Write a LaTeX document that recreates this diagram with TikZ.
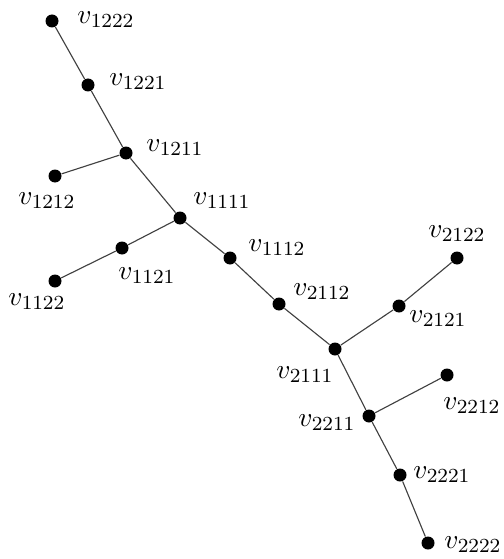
\documentclass[tikz,border=0pt]{standalone}
\begin{document}
\begin{tikzpicture}[x=0.4pt,y=-0.4pt,
	dot/.style={circle,fill=black,inner sep=0pt,minimum size=5.2pt},
	lbl/.style={font=\fontsize{11}{13}\selectfont},
	edge/.style={draw=black!75,line width=0.45pt}]
			\useasboundingbox (0,0) rectangle (503,559);
			\node[dot] (v1222) at (52,21) {};
			\node[dot] (v1221) at (88,85) {};
			\node[dot] (v1211) at (126,153) {};
			\node[dot] (v1212) at (55,176) {};
			\node[dot] (v1111) at (180,218) {};
			\node[dot] (v1121) at (122,248) {};
			\node[dot] (v1122) at (55,281) {};
			\node[dot] (v1112) at (230,258) {};
			\node[dot] (v2112) at (279,304) {};
			\node[dot] (v2111) at (335,349) {};
			\node[dot] (v2121) at (399,306) {};
			\node[dot] (v2122) at (457,258) {};
			\node[dot] (v2211) at (369,416) {};
			\node[dot] (v2212) at (447,375) {};
			\node[dot] (v2221) at (400,475) {};
			\node[dot] (v2222) at (428,543) {};

			\draw[edge] (v1222) -- (v1221) -- (v1211) -- (v1111) -- (v1112) -- (v2112) -- (v2111) -- (v2211) -- (v2221) -- (v2222);
			\draw[edge] (v1211) -- (v1212);
			\draw[edge] (v1111) -- (v1121) -- (v1122);
			\draw[edge] (v2111) -- (v2121) -- (v2122);
			\draw[edge] (v2211) -- (v2212);

			\node[lbl] (l1222) at (106,20) {$v_{1222}$};
			\node[lbl] (l1221) at (138,82) {$v_{1221}$};
			\node[lbl] (l1211) at (175,148) {$v_{1211}$};
			\node[lbl] (l1212) at (47,201) {$v_{1212}$};
			\node[lbl] (l1111) at (222,201) {$v_{1111}$};
			\node[lbl] (l1121) at (147,276) {$v_{1121}$};
			\node[lbl] (l1122) at (37,302) {$v_{1122}$};
			\node[lbl] (l1112) at (277,248) {$v_{1112}$};
			\node[lbl] (l2112) at (322,292) {$v_{2112}$};
			\node[lbl] (l2111) at (305,375) {$v_{2111}$};
			\node[lbl] (l2121) at (438,319) {$v_{2121}$};
			\node[lbl] (l2122) at (457,234) {$v_{2122}$};
			\node[lbl] (l2211) at (327,423) {$v_{2211}$};
			\node[lbl] (l2212) at (472,406) {$v_{2212}$};
			\node[lbl] (l2221) at (442,475) {$v_{2221}$};
			\node[lbl] (l2222) at (473,545) {$v_{2222}$};
			\end{tikzpicture}
\end{document}
